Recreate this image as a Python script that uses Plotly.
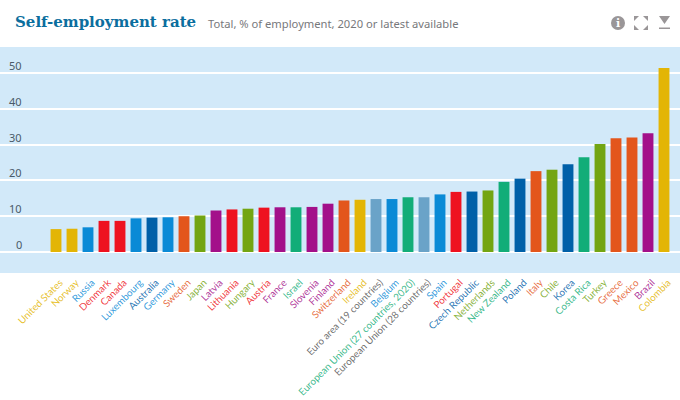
import plotly.graph_objects as go

countries = ["United States","Norway","Russia","Denmark","Canada","Luxembourg","Australia","Germany","Sweden","Japan","Latvia","Lithuania","Hungary","Austria","France","Israel","Slovenia","Finland","Switzerland","Ireland","Euro area (19 countries)","Belgium","European Union (27 countries, 2020)","European Union (28 countries)","Spain","Portugal","Czech Republic","Netherlands","New Zealand","Poland","Italy","Chile","Korea","Costa Rica","Turkey","Greece","Mexico","Brazil","Colombia"]
values = [6.4,6.5,6.9,8.7,8.7,9.4,9.6,9.7,10.0,10.2,11.6,11.9,12.1,12.4,12.5,12.5,12.6,13.5,14.4,14.6,14.8,14.8,15.3,15.3,16.1,16.8,16.9,17.2,19.6,20.5,22.6,23.0,24.5,26.5,30.2,31.8,32.0,33.2,51.4]

Y = "#E3B505"; B = "#0A8AD6"; R = "#EE1220"; D = "#0060A8"; O = "#E3561C"
G = "#73A512"; P = "#A3108A"; T = "#12AD78"; S = "#6AA3C8"
bar_colors = [Y,Y,B,R,R,B,D,B,O,G,P,R,G,R,P,T,P,P,O,Y,S,B,T,S,B,R,D,G,T,D,O,G,D,T,G,O,O,P,Y]
label_colors = [Y,Y,B,R,R,B,D,B,O,G,P,R,G,R,P,T,P,P,O,Y,"#555555",B,T,"#555555",B,R,D,G,T,D,O,G,D,T,G,O,O,P,Y]
y_ticks = [0,10,20,30,40,50]

W, H = 680, 400
TOP, BOTTOM = 47, 127

def px(x): return x / W
def py(y): return (H - BOTTOM - y) / (H - TOP - BOTTOM)
def soften(c, a=0.85):
    r, g, b = int(c[1:3], 16), int(c[3:5], 16), int(c[5:7], 16)
    return f"rgba({r},{g},{b},{a})"

fig = go.Figure(go.Bar(
    x=list(range(len(countries))), y=values,
    marker=dict(color=bar_colors, line_width=0),
    width=0.68, hoverinfo="x+y",
))

ann = [
    dict(x=px(13), y=py(22), xref="paper", yref="paper", xanchor="left", yanchor="middle", showarrow=False,
         text="<b>Self-employment rate</b>", font=dict(family="DejaVu Serif", size=15, color="#0B6E9E")),
    dict(x=px(206), y=py(23), xref="paper", yref="paper", xanchor="left", yanchor="middle", showarrow=False,
         text="Total, % of employment, 2020 or latest available", font=dict(family="Noto Sans", size=11.2, color="#77787B")),
    dict(x=px(618), y=py(23), xref="paper", yref="paper", xanchor="center", yanchor="middle", showarrow=False,
         text="<b>i</b>", font=dict(family="DejaVu Serif", size=11, color="white")),
]
for t in y_ticks:
    ann.append(dict(x=px(24), y=t, xref="paper", yref="y", xanchor="right", yanchor="bottom", yshift=-2, showarrow=False,
                    text=str(t), font=dict(family="Noto Sans", size=11, color="#4A5A68")))

shapes = [
    dict(type="circle", xref="paper", yref="paper", x0=px(611), x1=px(625), y0=py(30), y1=py(16),
         fillcolor="#9A9698", line_width=0, layer="below"),
]
def path(pts):
    s = "M " + " L ".join(f"{px(x):.5f},{py(y):.5f}" for x, y in pts) + " Z"
    return dict(type="path", xref="paper", yref="paper", path=s, fillcolor="#9A9698", line_width=0)
# expand icon: four small corner triangles
for pts in ([(634,16),(639,16),(634,21)], [(648,16),(643,16),(648,21)],
            [(634,30),(639,30),(634,25)], [(648,30),(643,30),(648,25)]):
    shapes.append(path(pts))
# download icon
shapes.append(path([(659,16),(670,16),(664.5,24)]))
shapes.append(path([(659,27.5),(670,27.5),(670,29),(659,29)]))

fig.update_layout(
    width=W, height=H, autosize=False,
    margin=dict(l=0, r=0, t=TOP, b=BOTTOM, pad=0),
    paper_bgcolor="white", plot_bgcolor="#D2E9F9",
    showlegend=False, bargap=0.32,
    annotations=ann, shapes=shapes,
    xaxis=dict(
        range=[-3.5, 39.0], showgrid=False, zeroline=False, showline=False,
        tickmode="array", tickvals=list(range(len(countries))),
        ticktext=[f'<span style="color:{soften(c)}">{n}</span>' for n, c in zip(countries, label_colors)],
        tickangle=-45, ticks="", ticklabelstandoff=1, ticklabelshift=4,
        tickfont=dict(family="Lato", size=9.9), automargin=False,
    ),
    yaxis=dict(
        range=[-5.87, 57.3], tickvals=y_ticks, showticklabels=False,
        showgrid=True, gridcolor="white", gridwidth=1.5,
        zeroline=True, zerolinecolor="white", zerolinewidth=1.5, showline=False, automargin=False,
    ),
)
fig.write_html("out.html", config={"displayModeBar": False},
               post_script="document.body.style.margin='0';document.documentElement.style.overflow='hidden';")
